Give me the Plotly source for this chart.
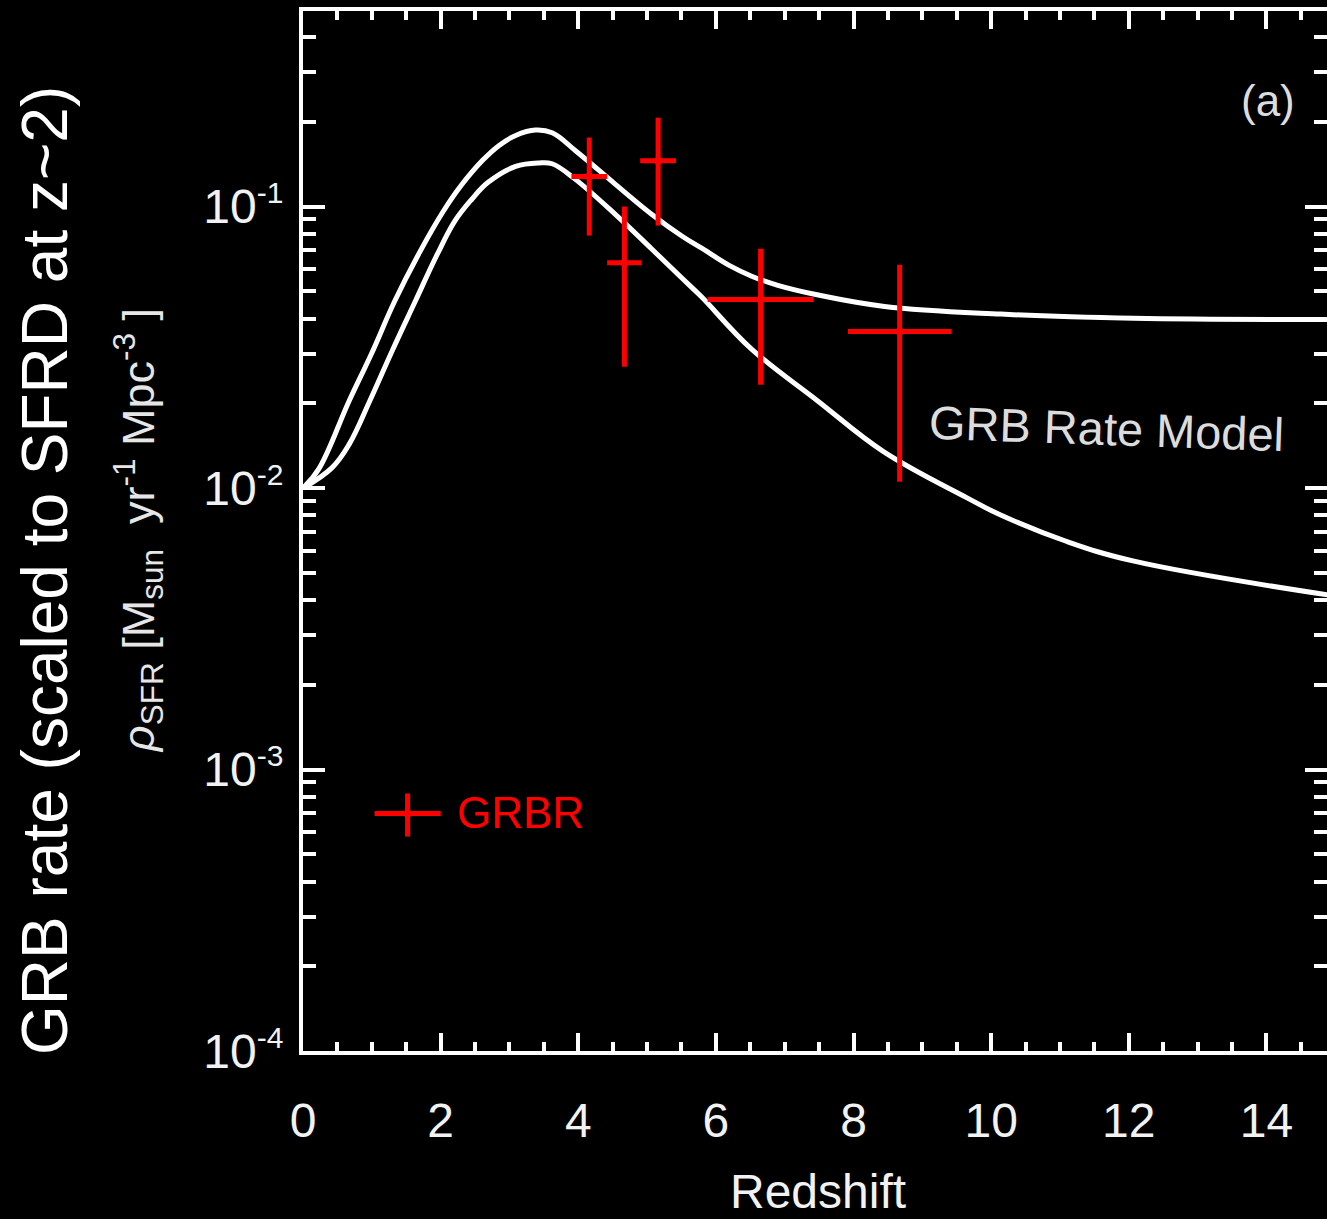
import plotly.graph_objects as go

# ---------------- data ----------------
# upper GRB-rate model curve
upper_z = [0, 0.23, 0.67, 1.0, 1.33, 1.7, 2.03, 2.3, 2.61, 2.85, 3.09, 3.38, 3.62, 3.96,
           4.54, 5.07, 5.51, 5.80, 6.2, 6.52, 6.9, 7.47, 8.45, 10.14, 12.07, 14.9]
upper_rate = [0.0100, 0.0117, 0.0204, 0.0302, 0.0460, 0.0692, 0.0955, 0.119, 0.146, 0.165,
              0.179, 0.187, 0.183, 0.158, 0.120, 0.0938, 0.0785, 0.0710, 0.0617, 0.0566,
              0.0525, 0.0486, 0.0442, 0.0415, 0.0401, 0.0397]
# lower GRB-rate model curve
lower_z = [0, 0.42, 0.67, 0.97, 1.3, 1.63, 1.95, 2.21, 2.45, 2.69, 3.09, 3.43, 3.62, 3.94,
           4.55, 5.06, 5.49, 5.78, 6.51, 7.48, 8.43, 9.65, 10.13, 11.1, 12.06, 14.9]
lower_rate = [0.0100, 0.0118, 0.0143, 0.0204, 0.0309, 0.0460, 0.0676, 0.0891, 0.106, 0.122,
              0.139, 0.143, 0.142, 0.126, 0.0933, 0.0710, 0.0562, 0.0481, 0.0313, 0.0204,
              0.0135, 0.00923, 0.00804, 0.00646, 0.00551, 0.00417]

# GRBR data points
grbr_z = [4.16, 4.67, 5.16, 6.65, 8.67]
grbr_z_err = [0.26, 0.25, 0.26, 0.77, 0.75]
grbr_rate = [0.128, 0.0632, 0.1456, 0.0468, 0.0360]
grbr_rate_hi = [0.176, 0.100, 0.207, 0.0709, 0.0622]
grbr_rate_lo = [0.0789, 0.0270, 0.0856, 0.0233, 0.01054]

# legend key for GRBR
key_z = [1.52]
key_z_err = [0.48]
key_rate = [6.98e-4]
key_rate_hi = [8.22e-4]
key_rate_lo = [5.78e-4]

x_ticks = [0, 2, 4, 6, 8, 10, 12, 14]
y_ticks = [1e-4, 1e-3, 1e-2, 1e-1]
y_exponents = ["-4", "-3", "-2", "-1"]
y_tick_text = ["10<sup><span style='font-size:30px'>%s</span></sup>" % e for e in y_exponents]
y_minor = [m * 10 ** e for e in range(-4, 0) for m in range(2, 10)]
x_minor = [i * 0.5 for i in range(0, 30)]

RED = "#ff0000"
FONT = "Liberation Sans, Arial, Helvetica, sans-serif"

fig = go.Figure()

for zz, rr in [(upper_z, upper_rate), (lower_z, lower_rate)]:
    fig.add_trace(go.Scatter(x=zz, y=rr, mode="lines",
                             line=dict(color="white", width=5, shape="spline", smoothing=1.1),
                             showlegend=False, hoverinfo="skip"))

def err_trace(z, zerr, r, rhi, rlo):
    return go.Scatter(
        x=z, y=r, mode="markers",
        marker=dict(color=RED, size=8),
        error_x=dict(type="data", array=zerr, symmetric=True, color=RED, thickness=5, width=0),
        error_y=dict(type="data", array=[h - v for h, v in zip(rhi, r)],
                     arrayminus=[v - l for v, l in zip(r, rlo)], symmetric=False,
                     color=RED, thickness=5, width=0),
        showlegend=False, hoverinfo="skip")

fig.add_trace(err_trace(grbr_z, grbr_z_err, grbr_rate, grbr_rate_hi, grbr_rate_lo))
fig.add_trace(err_trace(key_z, key_z_err, key_rate, key_rate_hi, key_rate_lo))
# empty trace to activate the right-hand tick axis
fig.add_trace(go.Scatter(x=[], y=[], yaxis="y2", showlegend=False, hoverinfo="skip"))

tickfont = dict(family=FONT, size=48, color="#f2f2f2")

fig.update_layout(
    xaxis=dict(range=[0, 14.88], tickvals=x_ticks, ticklen=18, ticklabelstandoff=24,
               showline=True, linecolor="white", linewidth=4, mirror="ticks",
               ticks="inside", tickcolor="white", tickwidth=4,
               showgrid=False, zeroline=False, tickfont=tickfont,
               minor=dict(tickvals=x_minor, ticks="inside", ticklen=9,
                          tickwidth=4, tickcolor="white", showgrid=False)),
    yaxis=dict(type="log", range=[-4, -0.305], tickvals=y_ticks, ticktext=y_tick_text,
               ticklen=22, ticklabelstandoff=6,
               showline=True, linecolor="white", linewidth=4, mirror=False,
               ticks="inside", tickcolor="white", tickwidth=4,
               showgrid=False, zeroline=False, tickfont=tickfont,
               minor=dict(tickvals=y_minor, ticks="inside", ticklen=13,
                          tickwidth=4, tickcolor="white", showgrid=False)),
    yaxis2=dict(type="log", range=[-4, -0.305], overlaying="y", side="right",
                tickvals=y_ticks, showticklabels=False, ticklen=22,
                showline=False, ticks="inside", tickcolor="white", tickwidth=4,
                showgrid=False, zeroline=False,
                minor=dict(tickvals=y_minor, ticks="inside", ticklen=13,
                           tickwidth=4, tickcolor="white", showgrid=False)),
)

annotations = [
    dict(text="GRB rate (scaled to SFRD at z~2)", x=-0.252, y=0.4625, textangle=-90,
         font=dict(family=FONT, size=64, color="white")),
    dict(text="<i>ρ</i><sub>SFR</sub> [M<sub>sun</sub>  yr<sup>-1</sup> Mpc<sup>-3</sup> ]",
         x=-0.161, y=0.50, textangle=-90,
         font=dict(family=FONT, size=45, color="#e6e6e6")),
    dict(text="Redshift", x=0.503, y=-0.135,
         font=dict(family=FONT, size=48, color="#f2f2f2")),
    dict(text="(a)", x=0.942, y=0.914, font=dict(family=FONT, size=44, color="#dddddd")),
    dict(text="GRB Rate Model", x=0.785, y=0.599, textangle=2,
         font=dict(family=FONT, size=47, color="#dcdcdc")),
    dict(text="GRBR", x=0.148, y=0.229, xanchor="left",
         font=dict(family=FONT, size=44, color=RED)),
]
for a in annotations:
    a.setdefault("xanchor", "center")
    a.update(xref="paper", yref="paper", yanchor="middle", showarrow=False)

fig.update_layout(
    width=1327, height=1219,
    margin=dict(l=303, r=0, t=11, b=168),
    paper_bgcolor="black", plot_bgcolor="black",
    annotations=annotations,
    showlegend=False,
)

fig.write_html("out.html")
